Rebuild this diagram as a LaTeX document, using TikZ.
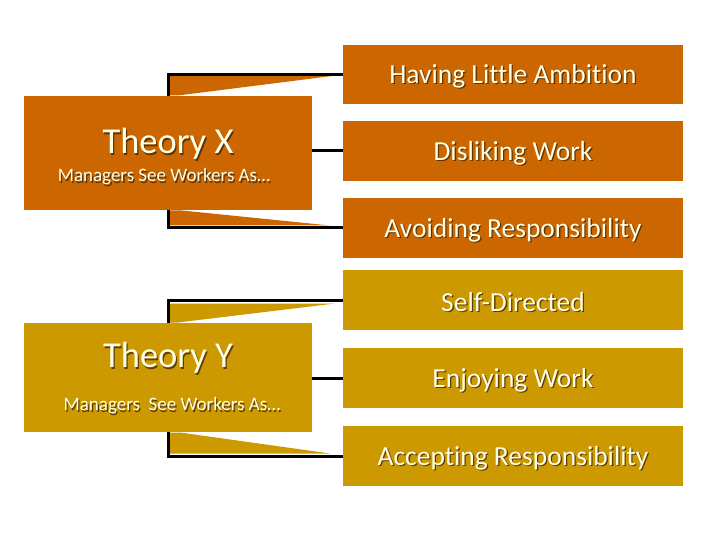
\documentclass[tikz,border=0pt]{standalone}
\usepackage{fontspec}
\setmainfont{Carlito}[Ligatures=NoCommon]
\usetikzlibrary{calc}
\definecolor{xorange}{RGB}{204,102,0}
\definecolor{ygold}{RGB}{204,153,0}
\definecolor{cream}{RGB}{255,255,232}
\definecolor{shad}{RGB}{70,40,0}
\tikzset{
  box/.style={draw=none,inner sep=0pt,outer sep=0pt,anchor=north west},
  link/.style={draw=black,line width=3pt},
  txt/.style={text=cream,inner sep=0pt},
  txtsh/.style={text=shad,inner sep=0pt,opacity=0.8},
}
\newcommand\shtxt[3]{%
  \node[txtsh,font=#2] at ($(#1)+(1.3,1.3)$) {#3};
  \node[txt,font=#2] at (#1) {#3};}
\begin{document}
\begin{tikzpicture}[x=1pt,y=-1pt]
\useasboundingbox (0,0) rectangle (720,540);
% wedges
\fill[xorange] (170,76) -- (332,76) -- (178,95.5) -- (170,95.5) -- cycle;
\fill[xorange] (170,210.5) -- (182,210.5) -- (330,225.5) -- (170,225.5) -- cycle;
\fill[ygold] (170,303.5) -- (335,303.5) -- (178,322.5) -- (170,322.5) -- cycle;
\fill[ygold] (170,432.5) -- (180,432.5) -- (330,453.5) -- (170,453.5) -- cycle;
% boxes
\node[box,fill=xorange,minimum width=288,minimum height=114] (xbox) at (24,96) {};
\node[box,fill=ygold,minimum width=288,minimum height=109] (ybox) at (24,323) {};
\node[box,fill=xorange,minimum width=340,minimum height=59] (r1) at (343,45) {};
\node[box,fill=xorange,minimum width=340,minimum height=60] (r2) at (343,121) {};
\node[box,fill=xorange,minimum width=340,minimum height=60] (r3) at (343,198) {};
\node[box,fill=ygold,minimum width=340,minimum height=60] (r4) at (343,270) {};
\node[box,fill=ygold,minimum width=340,minimum height=60] (r5) at (343,348) {};
\node[box,fill=ygold,minimum width=340,minimum height=60] (r6) at (343,426) {};
% connectors
\coordinate (xt) at (168,96);
\coordinate (xb) at (168,210);
\coordinate (yt) at (168,323);
\coordinate (yb) at (168,432);
\draw[link] (xt) |- (r1.west);
\draw[link] (xbox.east |- r2.west) -- (r2.west);
\draw[link] (xb) |- (r3.west);
\draw[link] (yt) |- (r4.west);
\draw[link] (ybox.east |- r5.west) -- (r5.west);
\draw[link] (yb) |- (r6.west);
% texts
\shtxt{168,144}{\fontsize{36.5}{40}\selectfont}{Theory X}
\shtxt{164,177}{\fontsize{19}{22}\selectfont}{Managers See Workers As…}
\shtxt{168,358}{\fontsize{36.5}{40}\selectfont}{Theory Y}
\shtxt{172,406}{\fontsize{19}{22}\selectfont}{Managers\ \ See Workers As…}
\shtxt{$(r1.center)+(0,2)$}{\fontsize{27.5}{30}\selectfont}{Having Little Ambition}
\shtxt{$(r2.center)+(0,2)$}{\fontsize{27.5}{30}\selectfont}{Disliking Work}
\shtxt{$(r3.center)+(0,2)$}{\fontsize{27.5}{30}\selectfont}{Avoiding Responsibility}
\shtxt{$(r4.center)+(0,2)$}{\fontsize{27.5}{30}\selectfont}{Self-Directed}
\shtxt{$(r5.center)+(0,2)$}{\fontsize{27.5}{30}\selectfont}{Enjoying Work}
\shtxt{$(r6.center)+(0,2)$}{\fontsize{27.5}{30}\selectfont}{Accepting Responsibility}
\end{tikzpicture}
\end{document}
